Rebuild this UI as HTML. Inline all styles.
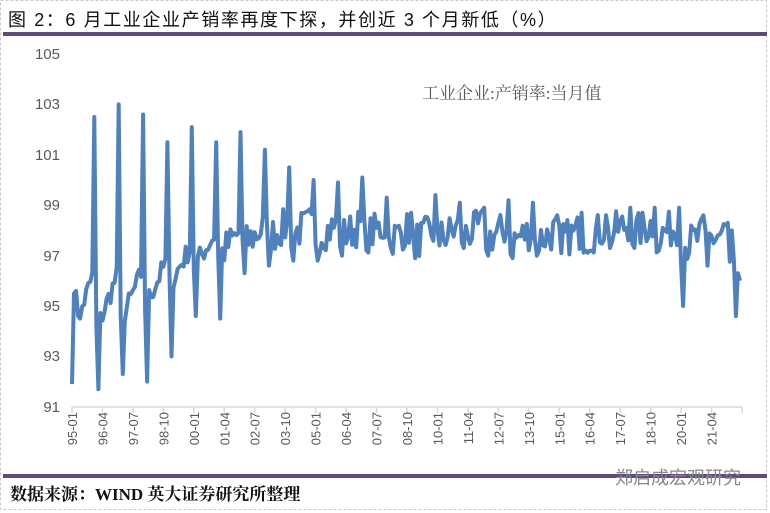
<!DOCTYPE html>
<html><head><meta charset="utf-8"><style>
body{margin:0;background:#fff;width:770px;height:513px;overflow:hidden}
svg{display:block}
</style></head><body>
<svg id="s" width="770" height="513" xmlns="http://www.w3.org/2000/svg">
<rect x="0.5" y="0.5" width="766" height="509" fill="none" stroke="#c8c8c8" stroke-dasharray="3,2"/>
<text x="8" y="26" font-family="'Liberation Sans','Noto Sans CJK SC',sans-serif" font-size="18" letter-spacing="1.6" fill="#111">图 2：6 月工业企业产销率再度下探，并创近 3 个月新低（%）</text>
<rect x="3" y="32" width="764" height="4" fill="#5f4b7b"/>
<g font-family="'Liberation Sans',sans-serif" font-size="15" fill="#595959" text-anchor="end">
<text x="60" y="59">105</text><text x="60" y="109">103</text><text x="60" y="160">101</text>
<text x="60" y="210">99</text><text x="60" y="261">97</text><text x="60" y="311">95</text>
<text x="60" y="361">93</text><text x="60" y="412">91</text>
</g>
<text x="422" y="99" font-family="'Liberation Serif','Noto Serif CJK SC',serif" font-size="17" fill="#595959">工业企业:产销率:当月值</text>
<line x1="72" y1="407" x2="742" y2="407" stroke="#d9d9d9" stroke-width="1.5"/>
<g id="ticks"></g>
<polyline id="ln" fill="none" stroke="#4f81bd" stroke-width="4" stroke-linejoin="round"/>
<rect x="3" y="474" width="764" height="4" fill="#5f4b7b"/>
<text x="615" y="484" font-family="'Liberation Sans','Noto Sans CJK SC',sans-serif" font-size="18" fill="#888">郑启成宏观研究</text>
<text x="10" y="500" font-family="'Liberation Serif','Noto Serif CJK SC',serif" font-size="17" font-weight="bold" fill="#111">数据来源：WIND 英大证券研究所整理</text>
</svg>
<script>
var NS="http://www.w3.org/2000/svg";
var tg=document.getElementById('ticks');
var labs=["95-01","96-04","97-07","98-10","00-01","01-04","02-07","03-10","05-01","06-04","07-07","08-10","10-01","11-04","12-07","13-10","15-01","16-04","17-07","18-10","20-01","21-04"];
var dx=670/330;
for(var k=0;k<=22;k++){var x=72+k*15*dx;
var l=document.createElementNS(NS,'line');l.setAttribute('x1',x);l.setAttribute('x2',x);l.setAttribute('y1',407);l.setAttribute('y2',413);l.setAttribute('stroke','#d9d9d9');l.setAttribute('stroke-width','1.5');tg.appendChild(l);
if(k<22){var t=document.createElementNS(NS,'text');t.setAttribute('transform','translate('+(x+5)+',412) rotate(-90)');t.setAttribute('text-anchor','end');t.setAttribute('font-family','Liberation Sans,sans-serif');t.setAttribute('font-size','13');t.setAttribute('fill','#595959');t.textContent=labs[k];tg.appendChild(t);}}
var seed=7;function rnd(){seed=(seed*16807)%2147483647;return seed/2147483647-0.5;}
var peak={1995:102.5,1996:103.0,1997:102.6,1998:101.5,1999:102.1,2000:101.5,2001:101.9,2002:101.2,2003:100.5,2004:100.0,2005:99.9,2006:100.1,2007:99.3,2008:98.7,2009:99.4,2010:99.1,2011:98.9,2012:99.2,2013:99.1,2014:98.6,2015:98.7,2016:98.6,2017:98.9,2018:98.9,2019:98.9,2020:98.6,2021:98.3};
var trough={1996:91.7,1997:92.3,1998:92.0,1999:93.0,2000:94.6,2001:94.5,2002:96.3,2003:96.6,2004:96.8,2005:96.8,2006:97.0,2007:97.2,2008:97.3,2009:96.9,2010:97.4,2011:97.3,2012:97.0,2013:96.9,2014:97.0,2015:97.1,2016:97.2,2017:97.3,2018:97.3,2019:97.2,2020:95.0,2021:96.6,2022:94.9};
function base(y){var b=[95.2,95.3,95.5,96.0,96.7,97.3,97.5,97.8,98.0,98.1,98.0,98.0,98.0,97.9,97.8,97.9,98.0,97.9,97.8,97.8,97.8,97.9,98.1,98.1,98.0,97.6,97.8,96.8];return b[y-1995];}
var vals=[];
for(var i=0;i<=329;i++){var y=1995+Math.floor(i/12),m=i%12,v;
var b=base(y),amp=Math.max(0.2,1.2-(y-1995)*0.12);
var nz=y<2001?0.9:1.5;
if(m==11)v=peak[y];else if(m==1&&trough[y])v=trough[y];
else{v=b+amp*((m-6)/5)+rnd()*nz;}
vals.push(v);}
vals[0]=91.9;vals[1]=95.5;vals[2]=95.6;vals[3]=94.6;vals[4]=94.5;
vals[301]=95.0;vals[327]=94.6;vals[328]=96.3;vals[329]=96.0;vals[325]=98.0;vals[326]=96.8;
var pts=vals.map(function(v,i){return (72+i*dx).toFixed(1)+','+(54+(105-v)*25.2).toFixed(1);}).join(' ');
document.getElementById('ln').setAttribute('points',pts);
</script>
</body></html>
